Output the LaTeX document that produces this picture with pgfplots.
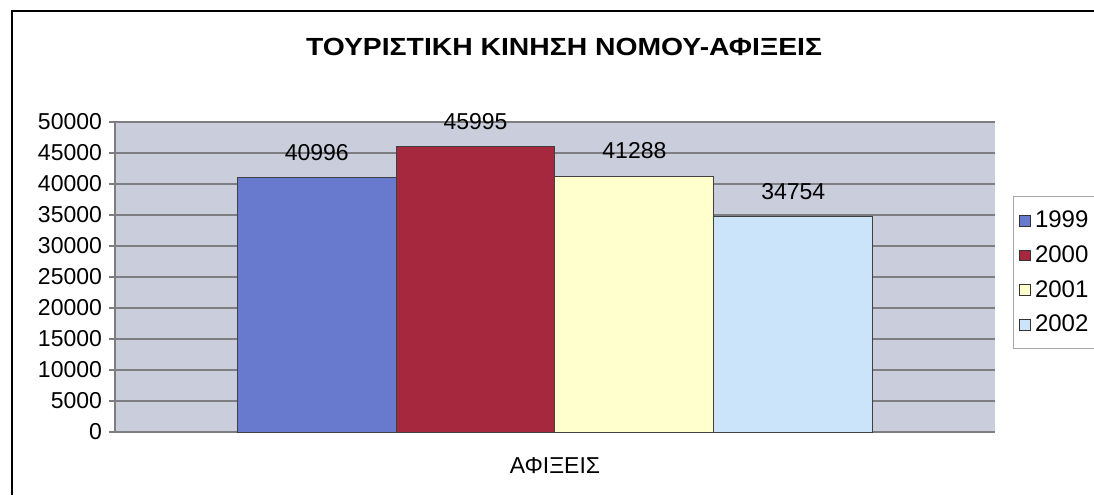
\documentclass[border=0pt]{standalone}
\usepackage{pgfplots}
\pgfplotsset{compat=1.18}
\usepackage{fontspec}
\setmainfont{Liberation Sans}
\definecolor{bgplot}{RGB}{202,206,220}
\definecolor{gridc}{RGB}{125,125,130}
\definecolor{cA}{RGB}{104,122,206}
\definecolor{cB}{RGB}{166,40,62}
\definecolor{cC}{RGB}{255,255,206}
\definecolor{cD}{RGB}{204,228,250}
\begin{document}
\begin{tikzpicture}[x=1pt,y=1pt]
\useasboundingbox (0,0) rectangle (547,247.5);
\fill[white] (0,0) rectangle (547,247.5);
\draw[line width=1pt] (6,0) -- (6,242) -- (547,242);
\node[font=\bfseries\fontsize{11.8}{14}\selectfont] at (282,224) {\scalebox{1.2}[1.05]{ΤΟΥΡΙΣΤΙΚΗ ΚΙΝΗΣΗ ΝΟΜΟΥ-ΑΦΙΞΕΙΣ}};
\begin{axis}[
  at={(57.5pt,31.5pt)}, anchor=south west,
  scale only axis, width=440pt, height=155pt,
  ymin=0, ymax=50000, ytick={0,5000,...,50000},
  xmin=-2.77, xmax=2.77,
  xtick={0}, xticklabels={ΑΦΙΞΕΙΣ},
  x tick label style={yshift=-6pt},
  xtick style={draw=none},
  axis x line*=bottom, axis y line*=left,
  axis line style={gridc, line width=0.7pt},
  tick align=outside, major tick length=3pt,
  ytick style={gridc, line width=0.6pt},
  scaled y ticks=false,
  /pgf/number format/1000 sep={},
  /pgf/number format/assume math mode=true,
  tick label style={font=\fontsize{11.5}{13}\selectfont},
  ymajorgrids, grid style={gridc, line width=0.6pt},
  axis background/.style={fill=bgplot},
  point meta=explicit symbolic,
  nodes near coords,
  every node near coord/.append style={font=\fontsize{11.5}{13}\selectfont, yshift=5pt, black},
  legend style={at={(1.0205,0.76)}, anchor=north west, draw=gray!70, font=\fontsize{12}{14}\selectfont, row sep=3.5pt, inner ysep=5pt, inner xsep=3pt},
  legend cell align=left,
  legend image code/.code={\draw[#1,draw=black!80,line width=0.4pt] (0pt,-2.7pt) rectangle (5.4pt,2.7pt);},
]
\addplot[ybar, bar width=1, bar shift=0pt, fill=cA, draw=black!75, line width=0.5pt] coordinates {(-1.5,40996) [40996]};
\addplot[ybar, bar width=1, bar shift=0pt, fill=cB, draw=black!75, line width=0.5pt] coordinates {(-0.5,45995) [45995]};
\addplot[ybar, bar width=1, bar shift=0pt, fill=cC, draw=black!75, line width=0.5pt] coordinates {(0.5,41288) [41288]};
\addplot[ybar, bar width=1, bar shift=0pt, fill=cD, draw=black!75, line width=0.5pt] coordinates {(1.5,34754) [34754]};
\legend{1999,2000,2001,2002}
\end{axis}
\end{tikzpicture}
\end{document}
